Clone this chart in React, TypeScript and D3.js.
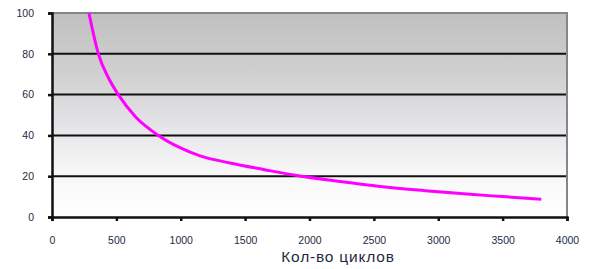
import * as d3 from "d3";
import { useEffect, useRef } from "react";

// cycles vs value
const cycles = [287, 360, 440, 515, 650, 826, 994, 1150, 1383, 1650, 1900, 2237, 2548, 2900, 3247, 3500, 3800];
const values = [100, 80, 68, 60, 49, 40, 34, 30, 26.5, 23.2, 20.3, 17.4, 15, 12.9, 11.1, 10, 8.7];
const xTicks = [0, 500, 1000, 1500, 2000, 2500, 3000, 3500, 4000];
const yTicks = [0, 20, 40, 60, 80, 100];
const xTitle = "Кол-во циклов";

const W = 597;
const H = 269;

const App = () => {
  const svgRef = useRef<SVGSVGElement>(null);

  useEffect(() => {
    const svg = d3.select(svgRef.current);
    svg.selectAll("*").remove();

    const margin = { top: 13, right: 30, bottom: 52, left: 52 };
    const x = d3.scaleLinear().domain([0, 4000]).range([margin.left, W - margin.right]);
    const y = d3.scaleLinear().domain([0, 100]).range([H - margin.bottom, margin.top]);

    // gray-to-white background of the plot area
    const grad = svg
      .append("defs")
      .append("linearGradient")
      .attr("id", "bg")
      .attr("x1", 0)
      .attr("y1", 0)
      .attr("x2", 0)
      .attr("y2", 1);
    [
      [0, "#c0c0c0"],
      [0.3, "#d0d0d0"],
      [0.55, "#e4e4e8"],
      [0.78, "#f7f7f7"],
      [1, "#ffffff"],
    ].forEach(([o, c]) => grad.append("stop").attr("offset", o as number).attr("stop-color", c as string));

    svg
      .append("rect")
      .attr("x", x(0))
      .attr("y", y(100))
      .attr("width", x(4000) - x(0))
      .attr("height", y(0) - y(100))
      .attr("fill", "url(#bg)");

    // horizontal grid lines
    svg
      .selectAll(".grid")
      .data(yTicks.filter((d) => d > 0 && d < 100))
      .enter()
      .append("line")
      .attr("x1", x(0))
      .attr("x2", x(4000))
      .attr("y1", (d) => y(d))
      .attr("y2", (d) => y(d))
      .attr("stroke", "#111")
      .attr("stroke-width", 2);

    // top and right frame
    svg
      .append("path")
      .attr("d", `M${x(0)},${y(100)}H${x(4000)}V${y(0)}`)
      .attr("fill", "none")
      .attr("stroke", "#85858e")
      .attr("stroke-width", 2);

    // the curve
    const line = d3
      .line<number>()
      .x((d) => x(d))
      .y((d, i) => y(values[i]))
      .curve(d3.curveMonotoneX);
    svg
      .append("path")
      .attr("d", line(cycles))
      .attr("fill", "none")
      .attr("stroke", "#ff00ff")
      .attr("stroke-width", 3);

    const font = "'Liberation Sans', Arial, sans-serif";

    // y axis
    const yAxis = svg
      .append("g")
      .attr("transform", `translate(${x(0)},0)`)
      .call(d3.axisLeft(y).tickValues(yTicks).tickSize(4).tickPadding(14).tickFormat(d3.format("d")));
    yAxis.select(".domain").attr("stroke", "#111").attr("stroke-width", 2.5);
    yAxis.selectAll(".tick line").attr("stroke", "#111").attr("stroke-width", 2.5);
    yAxis
      .selectAll("text")
      .attr("fill", "#1f2a44")
      .style("font-family", font)
      .style("font-size", "10.5px");

    // x axis
    const xAxis = svg
      .append("g")
      .attr("transform", `translate(0,${y(0)})`)
      .call(d3.axisBottom(x).tickValues(xTicks).tickSize(4).tickPadding(16).tickFormat(d3.format("d")));
    xAxis.select(".domain").attr("stroke", "#111").attr("stroke-width", 2.5);
    xAxis.selectAll(".tick line").attr("stroke", "#111").attr("stroke-width", 2.5);
    xAxis
      .selectAll("text")
      .attr("fill", "#1f2a44")
      .style("font-family", font)
      .style("font-size", "10.5px");

    // axis title
    svg
      .append("text")
      .attr("x", 338)
      .attr("y", 262)
      .attr("text-anchor", "middle")
      .attr("fill", "#1f2a44")
      .style("font-family", font)
      .style("font-size", "15.5px")
      .style("letter-spacing", "0.8px")
      .text(xTitle);
  }, []);

  return (
    <svg
      ref={svgRef}
      width={W}
      height={H}
      style={{ position: "absolute", left: 0, top: 0, background: "white" }}
    />
  );
};

export default App;
